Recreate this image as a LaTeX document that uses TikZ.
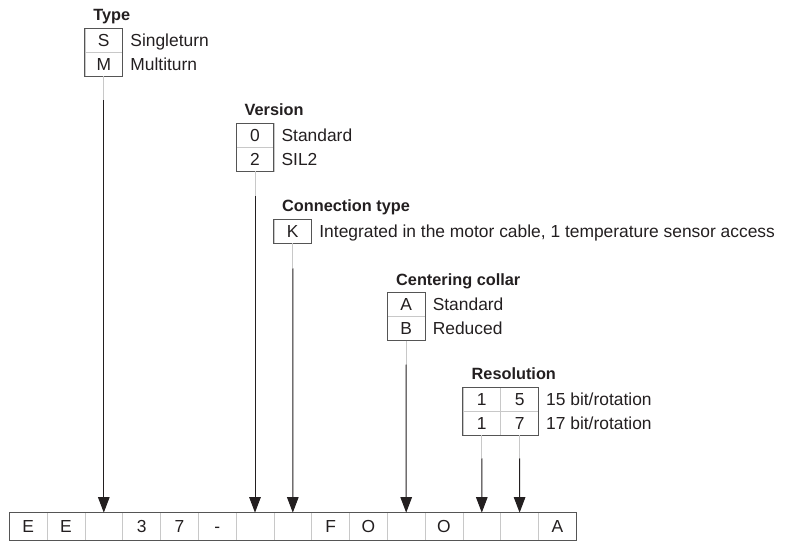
\documentclass[tikz,border=0pt]{standalone}
\usepackage{fontspec}
\setmainfont{Liberation Sans}
\usetikzlibrary{arrows.meta}
\definecolor{ink}{HTML}{231F20}
\definecolor{frame}{HTML}{555555}
\definecolor{divider}{HTML}{C8C8C8}
\tikzset{
  cell/.style={draw=divider, line width=0.8pt, minimum width=37.8pt, minimum height=24pt,
    inner sep=0pt, outer sep=0pt, text height=12.5pt, text depth=0pt, text=ink,
    font=\fontsize{17.4}{20}\selectfont},
  codecell/.style={cell, minimum height=27.5pt},
  outerframe/.style={draw=frame, line width=0.9pt},
  item/.style={anchor=west, inner sep=0pt, text height=12.5pt, text depth=0pt, text=ink,
    font=\fontsize{17.4}{20}\selectfont},
  title/.style={anchor=base west, inner sep=0pt, text=ink,
    font=\fontsize{16.3}{19}\selectfont\bfseries},
  graylink/.style={draw=divider, line width=1pt},
  arrowlink/.style={draw=ink, line width=1pt, -{Triangle[length=15.5pt,width=11.5pt]}},
}
\begin{document}
\begin{tikzpicture}[x=1pt,y=-1pt]
\useasboundingbox (0,0) rectangle (788,542);

% bottom code row
\foreach \t [count=\i from 0] in {E,E,{},3,7,-,{},{},F,O,{},O,{},{},A}{
  \node[codecell] (c\i) at ({9.3+(\i+0.5)*37.8},526.4) {\t};
}
\draw[outerframe] (c0.north west) rectangle (c14.south east);

% Type
\node[title] (ttype) at (93.2,20.8) {Type};
\node[cell] (tS) at (103.8,40.3) {S};
\node[cell] (tM) at (103.8,64.3) {M};
\draw[outerframe] (tS.north west) rectangle (tM.south east);
\node[item] (tSl) at (130.2,40.3) {Singleturn};
\node[item] (tMl) at (130.2,64.3) {Multiturn};

% Version
\node[title] (tver) at (244.5,115.8) {Version};
\node[cell] (v0) at (255.0,135.3) {0};
\node[cell] (v2) at (255.0,159.3) {2};
\draw[outerframe] (v0.north west) rectangle (v2.south east);
\node[item] (v0l) at (281.4,135.3) {Standard};
\node[item] (v2l) at (281.4,159.3) {SIL2};

% Connection type
\node[title] (tcon) at (282.0,211.8) {Connection type};
\node[cell] (kK) at (292.8,231.3) {K};
\draw[outerframe] (kK.north west) rectangle (kK.south east);
\node[item] (kKl) at (319.2,231.3) {Integrated in the motor cable, 1 temperature sensor access};

% Centering collar
\node[title] (tcen) at (396.0,285.2) {Centering collar};
\node[cell] (zA) at (406.2,304.7) {A};
\node[cell] (zB) at (406.2,328.7) {B};
\draw[outerframe] (zA.north west) rectangle (zB.south east);
\node[item] (zAl) at (432.6,304.7) {Standard};
\node[item] (zBl) at (432.6,328.7) {Reduced};

% Resolution
\node[title] (tres) at (471.5,379.8) {Resolution};
\node[cell] (r1a) at (481.8,399.4) {1};
\node[cell] (r5) at (519.6,399.4) {5};
\node[cell] (r1b) at (481.8,423.4) {1};
\node[cell] (r7) at (519.6,423.4) {7};
\draw[outerframe] (r1a.north west) rectangle (r7.south east);
\node[item] (r15l) at (546.0,399.4) {15 bit/rotation};
\node[item] (r17l) at (546.0,423.4) {17 bit/rotation};

% connectors
\draw[graylink] (tM.south) -- ++(0,24) coordinate (tj);
\draw[arrowlink] (tj) -- (c2.north);
\draw[graylink] (v2.south) -- ++(0,25) coordinate (vj);
\draw[arrowlink] (vj) -- (c6.north);
\draw[graylink] (kK.south) -- ++(0,25) coordinate (kj);
\draw[arrowlink] (kj) -- (c7.north);
\draw[graylink] (zB.south) -- ++(0,24) coordinate (zj);
\draw[arrowlink] (zj) -- (c10.north);
\draw[graylink] (r1b.south) -- ++(0,23) coordinate (rj1);
\draw[arrowlink] (rj1) -- (c12.north);
\draw[graylink] (r7.south) -- ++(0,23) coordinate (rj2);
\draw[arrowlink] (rj2) -- (c13.north);
\end{tikzpicture}
\end{document}
